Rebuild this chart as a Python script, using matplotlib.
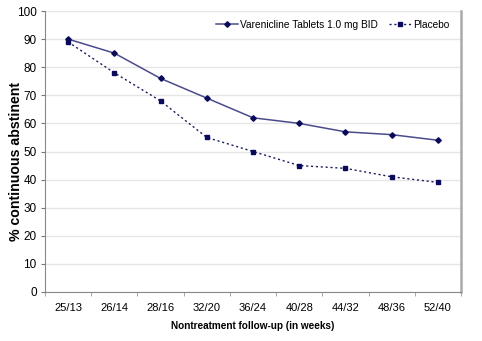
import matplotlib.pyplot as plt
import numpy as np

plt.rcParams['font.family'] = ['Liberation Sans', 'DejaVu Sans']

# semanas de seguimiento sin tratamiento
weeks = ['25/13', '26/14', '28/16', '32/20', '36/24', '40/28', '44/32', '48/36', '52/40']
varenicline = [90, 85, 76, 69, 62, 60, 57, 56, 54]
placebo = [89, 78, 68, 55, 50, 45, 44, 41, 39]

x = np.arange(len(weeks))

fig = plt.figure(figsize=(4.82, 3.41), dpi=100)
ax = fig.add_axes([45 / 482, 49 / 341, 416 / 482, 281 / 341])

ax.plot(x, varenicline, color='#4b4b8c', lw=1.1, marker='D', ms=2.8,
        mfc='#0a0a5a', mec='#0a0a5a', label='Varenicline Tablets 1.0 mg BID')
ax.plot(x, placebo, color='#1a1a5e', lw=1.0, ls=(0, (1.5, 2)), marker='s', ms=3.5,
        mfc='#0a0a5a', mec='#0a0a5a', label='Placebo')

ax.set_xlim(-0.5, len(weeks) - 0.5)
ax.set_ylim(0, 100)
ax.set_yticks(range(0, 101, 10))
ax.set_xticks(x)
ax.set_xticklabels(weeks)
ax.set_xticks(np.arange(-0.5, len(weeks), 1), minor=True)
ax.tick_params(axis='x', which='major', length=0, pad=8, labelsize=8)
ax.tick_params(axis='x', which='minor', length=3, color='#999999')
ax.tick_params(axis='y', length=3, color='#777777', labelsize=8.5, pad=3)

ax.grid(axis='y', color='#e6e6e6', lw=1)
ax.set_axisbelow(True)

ax.spines['top'].set_visible(False)
ax.spines['left'].set_color('#888888')
ax.spines['bottom'].set_color('#888888')
ax.spines['right'].set_color('#aaaaaa')
ax.spines['right'].set_linewidth(1.8)

ax.set_xlabel('Nontreatment follow-up (in weeks)', fontsize=7.2, fontweight='bold', labelpad=6)
ax.set_ylabel('% continuous abstinent', fontsize=10.2, fontweight='bold')
ax.yaxis.set_label_coords(-22 / 416, 0.463)

leg = ax.legend(loc='upper right', ncol=2, fontsize=7.3, frameon=False,
                borderaxespad=0.0, handlelength=2.2, handletextpad=0.2,
                columnspacing=1.1, bbox_to_anchor=(0.982, 0.984))

fig.savefig('out.png', dpi=100)
